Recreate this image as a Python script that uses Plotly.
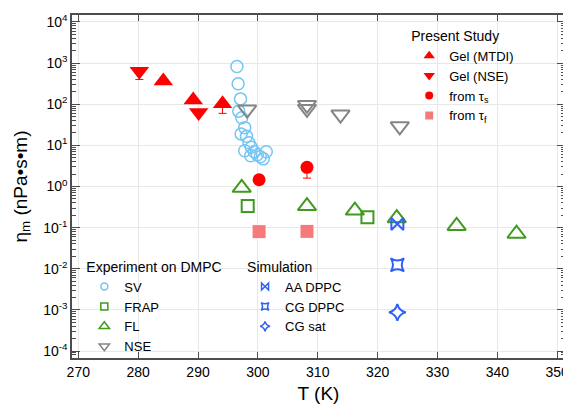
import plotly.graph_objects as go

# ---------------- data ----------------
# Present study
gel_mtdi_T = [284.2, 289.2, 294.1]
gel_mtdi_eta = [370, 127, 103]
gel_mtdi_errminus = [0, 0, 43]

gel_nse_T = [280.2, 290.1]
gel_nse_eta = [630, 63]
gel_nse_errminus = [230, 0]

tau_s_T = [300.2, 308.2]
tau_s_eta = [1.46, 2.93]
tau_s_errminus = [0, 1.33]

tau_f_T = [300.2, 308.2]
tau_f_eta = [0.080, 0.081]

# Experiment on DMPC
sv_T = [296.5, 296.7, 297.1, 296.8, 297.3, 297.8, 297.2, 298.1, 298.5, 297.8,
        298.9, 299.4, 299.9, 298.8, 300.4, 301.4, 300.9]
sv_eta = [830, 315, 135, 68, 47, 27, 19, 16.6, 11.6, 7.4,
          9.0, 7.0, 5.9, 5.6, 5.3, 7.0, 4.7]

frap_T = [298.3, 318.3]
frap_eta = [0.335, 0.18]

fl_T = [297.3, 308.2, 316.2, 323.2, 333.2, 343.2]
fl_eta = [0.93, 0.335, 0.26, 0.17, 0.11, 0.071]

nse_T = [298.2, 308.2, 308.2, 313.8, 323.7]
nse_eta = [74, 96, 77, 56, 29]

# Simulation
aa_dppc_T = [323.3]
aa_dppc_eta = [0.122]
cg_dppc_T = [323.3]
cg_dppc_eta = [0.0124]
cg_sat_T = [323.3]
cg_sat_eta = [0.00087]

y_tickvals = [1e-4, 1e-3, 1e-2, 1e-1, 1, 10, 100, 1000, 10000]
y_ticktext = ["10<sup>-4</sup>", "10<sup>-3</sup>", "10<sup>-2</sup>", "10<sup>-1</sup>",
              "10<sup>0</sup>", "10<sup>1</sup>", "10<sup>2</sup>", "10<sup>3</sup>", "10<sup>4</sup>"]
x_tickvals = [270, 280, 290, 300, 310, 320, 330, 340, 350]

# ---------------- styles ----------------
RED = "#ff0000"
SALMON = "#f77a7a"
SKY = "#74c6f2"
GREEN = "#3f9a1e"
GRAY = "#858585"
BLUE = "#2f5ff5"
FONT = "Liberation Sans, Arial, Helvetica, sans-serif"

fig = go.Figure()


def add(x, y, symbol, color, size, lw=0, errm=None, name=""):
    kw = {}
    if errm is not None:
        kw["error_y"] = dict(type="data", symmetric=False,
                             array=[0] * len(errm), arrayminus=errm,
                             color=color, thickness=1, width=4)
    fig.add_trace(go.Scatter(
        x=x, y=y, mode="markers", showlegend=False, name=name,
        marker=dict(symbol=symbol, color=color, size=size,
                    line=dict(color=color, width=lw)),
        **kw))


# data marks (drawn back to front)
add(sv_T, sv_eta, "circle-open", SKY, 12, 1.5)
add(frap_T, frap_eta, "square-open", GREEN, 12, 2)
add(fl_T, fl_eta, "triangle-up-open", GREEN, 16, 2)
add(nse_T, nse_eta, "triangle-down-open", GRAY, 16, 2)
add(aa_dppc_T, aa_dppc_eta, "bowtie-open", BLUE, 12, 2)
add(cg_dppc_T, cg_dppc_eta, "star-square-open", BLUE, 12, 2)
add(cg_sat_T, cg_sat_eta, "star-diamond-open", BLUE, 12, 2)
add(tau_f_T, tau_f_eta, "square", SALMON, 13)
add(tau_s_T, tau_s_eta, "circle", RED, 13, errm=tau_s_errminus)
add(gel_mtdi_T, gel_mtdi_eta, "triangle-up", RED, 17, errm=gel_mtdi_errminus)
add(gel_nse_T, gel_nse_eta, "triangle-down", RED, 17, errm=gel_nse_errminus)


def leg(name, symbol, color, size, legend, lw=0):
    fig.add_trace(go.Scatter(
        x=[None], y=[None], mode="markers", name=name, legend=legend,
        marker=dict(symbol=symbol, color=color, size=size,
                    line=dict(color=color, width=lw))))


leg("Gel (MTDI)", "triangle-up", RED, 10, "legend")
leg("Gel (NSE)", "triangle-down", RED, 10, "legend")
leg("from τ<sub>s</sub>", "circle", RED, 8, "legend")
leg("from τ<sub>f</sub>", "square", SALMON, 8, "legend")

leg("SV", "circle-open", SKY, 7, "legend2", 1.5)
leg("FRAP", "square-open", GREEN, 7, "legend2", 1.5)
leg("FL", "triangle-up-open", GREEN, 9, "legend2", 1.5)
leg("NSE", "triangle-down-open", GRAY, 9, "legend2", 1.5)

leg("AA DPPC", "bowtie-open", BLUE, 7, "legend3", 1.5)
leg("CG DPPC", "star-square-open", BLUE, 7, "legend3", 1.5)
leg("CG sat", "star-diamond-open", BLUE, 7, "legend3", 1.5)

legend_common = dict(bgcolor="rgba(0,0,0,0)", borderwidth=0,
                     font=dict(family=FONT, size=13, color="black"),
                     xanchor="left", yanchor="top", traceorder="normal",
                     itemsizing="trace")

axis_common = dict(showline=True, linecolor="#4d4d4d", linewidth=1.5, mirror="ticks",
                   ticks="inside", tickcolor="#4d4d4d", tickwidth=1,
                   showgrid=True, gridcolor="#e8e8e8", gridwidth=1, zeroline=False,
                   automargin=False,
                   tickfont=dict(family=FONT, size=14, color="black"))

# the page places the figure 8 px from the top-left corner of the window
fig.update_layout(
    width=563, height=397,
    margin=dict(l=64, r=6, t=7, b=47, autoexpand=False),
    paper_bgcolor="white", plot_bgcolor="white",
    font=dict(family=FONT, color="black"),
    xaxis=dict(range=[268.95, 351.3], tickmode="array", tickvals=x_tickvals,
               ticklen=6,
               title=dict(text="T (K)", font=dict(family=FONT, size=19), standoff=8),
               **axis_common),
    yaxis=dict(type="log", range=[-4.17, 4.17], tickmode="array",
               tickvals=y_tickvals, ticktext=y_ticktext, ticklen=8,
               minor=dict(ticks="inside", ticklen=4, dtick="D1", tickcolor="#4d4d4d",
                          showgrid=False),
               title=dict(text="η<sub>m</sub> (nPa•s•m)", font=dict(family=FONT, size=19),
                          standoff=11),
               **axis_common),
    legend=dict(x=0.684, y=0.978, title=dict(text="Present Study",
                                              font=dict(family=FONT, size=14)),
                **legend_common),
    legend2=dict(x=0.025, y=0.305, title=dict(text="Experiment on DMPC",
                                               font=dict(family=FONT, size=14)),
                 **legend_common),
    legend3=dict(x=0.351, y=0.305, title=dict(text="Simulation",
                                               font=dict(family=FONT, size=14)),
                 **legend_common),
)

fig.write_html("out.html")
